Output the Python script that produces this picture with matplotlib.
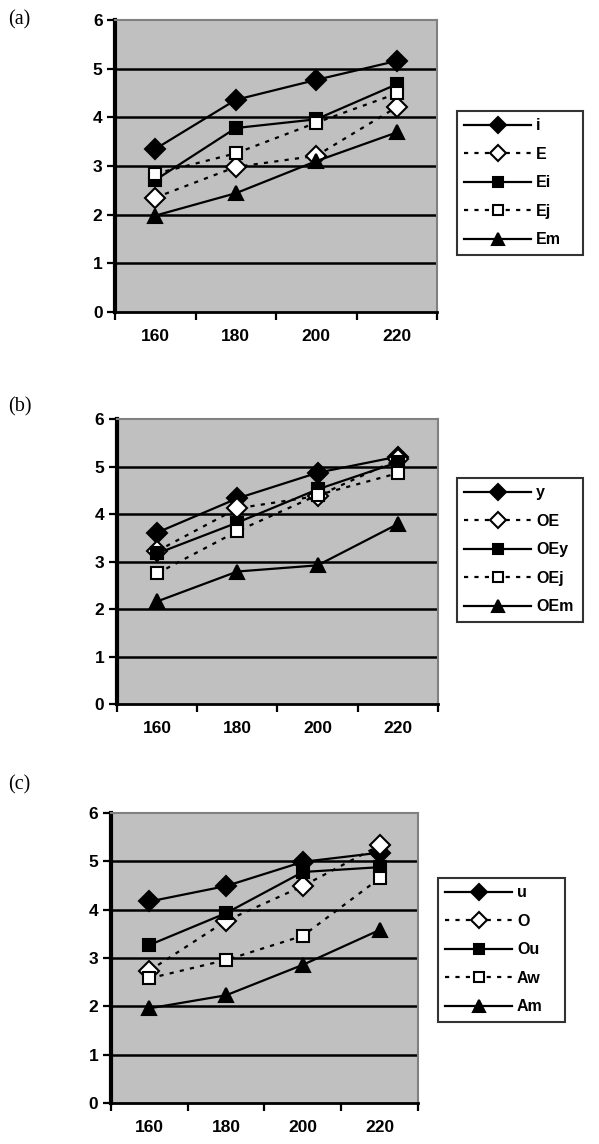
import matplotlib
matplotlib.use("Agg")
import matplotlib.pyplot as plt

plt.rcParams['font.family'] = ['Liberation Sans', 'DejaVu Sans']
plt.rcParams['lines.scale_dashes'] = False

x_labels = ['160', '180', '200', '220']

# panel (a)
names_a = ['i', 'E', 'Ei', 'Ej', 'Em']
i_a = [3.35, 4.36, 4.77, 5.16]
E_a = [2.35, 2.98, 3.21, 4.21]
Ei_a = [2.71, 3.78, 3.96, 4.68]
Ej_a = [2.84, 3.26, 3.89, 4.49]
Em_a = [1.98, 2.44, 3.10, 3.69]

# panel (b)
names_b = ['y', 'OE', 'OEy', 'OEj', 'OEm']
y_b = [3.61, 4.33, 4.87, 5.21]
OE_b = [3.22, 4.12, 4.38, 5.15]
OEy_b = [3.17, 3.82, 4.52, 5.09]
OEj_b = [2.75, 3.64, 4.40, 4.86]
OEm_b = [2.16, 2.79, 2.92, 3.79]

# panel (c)
names_c = ['u', 'O', 'Ou', 'Aw', 'Am']
u_c = [4.17, 4.49, 4.99, 5.18]
O_c = [2.74, 3.77, 4.49, 5.33]
Ou_c = [3.27, 3.93, 4.78, 4.88]
Aw_c = [2.58, 2.96, 3.46, 4.65]
Am_c = [1.96, 2.23, 2.86, 3.58]

styles = [
    dict(marker='D', ms=10, mfc='black', ls='-'),
    dict(marker='D', ms=10, mfc='white', ls=(0, (3, 4.5))),
    dict(marker='s', ms=9, mfc='black', ls='-'),
    dict(marker='s', ms=9, mfc='white', ls=(0, (3, 4.5))),
    dict(marker='^', ms=10, mfc='black', ls='-'),
]

# legend boxes in pixels: left, top, width, height
panels = [
    ('(a)', [0.192, 0.7273, 0.5376, 0.2552], names_a, [i_a, E_a, Ei_a, Ej_a, Em_a], [457, 111, 126, 141], 20),
    ('(b)', [0.1953, 0.3846, 0.5359, 0.2491], names_b, [y_b, OE_b, OEy_b, OEj_b, OEm_b], [457, 478, 126, 137], 407),
    ('(c)', [0.1853, 0.0358, 0.5125, 0.2535], names_c, [u_c, O_c, Ou_c, Aw_c, Am_c], [438, 878, 127, 149], 785),
]

W, H = 599, 1144
fig = plt.figure(figsize=(W / 100, H / 100), dpi=100)

for lab, rect, names, series, lg, ly in panels:
    ax = fig.add_axes(rect)
    ax.set_facecolor('#c0c0c0')
    xs = [k + 0.5 for k in range(len(x_labels))]
    for name, vals, st in zip(names, series, styles):
        ax.plot(xs, vals, color='black', lw=1.6, marker=st['marker'], ms=st['ms'],
                mfc=st['mfc'], mec='black', mew=1.5, ls=st['ls'], label=name, zorder=3)
    ax.set_xlim(0, 4)
    ax.set_ylim(0, 6)
    for yv in range(1, 6):
        ax.axhline(yv, color='black', lw=1.8, zorder=1)
    ax.set_yticks(range(0, 7))
    ax.set_xticks(range(0, 5))
    ax.set_xticks(xs, minor=True)
    ax.set_xticklabels([])
    ax.set_xticklabels(x_labels, minor=True)
    ax.tick_params(axis='x', which='minor', length=0, pad=12, labelsize=12.5)
    ax.tick_params(axis='x', which='major', length=6, width=1.6, direction='out')
    ax.tick_params(axis='y', length=6, width=1.6, direction='out', pad=3, labelsize=12.5)
    for t in ax.get_xticklabels(minor=True) + ax.get_yticklabels():
        t.set_fontweight('bold')
    ax.spines['left'].set_linewidth(3)
    ax.spines['bottom'].set_linewidth(2)
    for s in ('top', 'right'):
        ax.spines[s].set_color('#808080')
        ax.spines[s].set_linewidth(1.5)

    lx, ltop, lw_, lh = lg
    leg = ax.legend(loc='upper left',
                    bbox_to_anchor=(lx / W, 1 - (ltop + lh) / H, lw_ / W, lh / H),
                    bbox_transform=fig.transFigure, mode='expand',
                    frameon=True, fancybox=False, edgecolor='black',
                    handlelength=4.2, handletextpad=0.3, labelspacing=0.85,
                    borderpad=0.45, borderaxespad=0, prop={'weight': 'bold', 'size': 11.5},
                    markerscale=0.8)
    leg.get_frame().set_linewidth(1.5)

    fig.text(8 / W, 1 - ly / H, lab, family='Liberation Serif', fontsize=14.5,
             ha='left', va='center')

fig.savefig('out.png', dpi=100)
